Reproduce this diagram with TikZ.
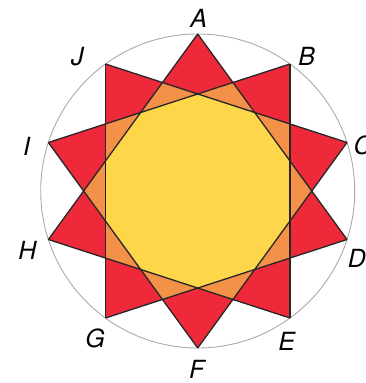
\documentclass[tikz,border=0pt]{standalone}
\usepackage{fontspec}
\setmainfont{TeX Gyre Heros}
\usepackage{xcolor}
\usepackage{tikz}
\definecolor{starred}{HTML}{EE2A3A}
\definecolor{starorange}{HTML}{F49148}
\definecolor{staryellow}{HTML}{FDD64A}
\definecolor{ringgray}{HTML}{AAAAAA}

\begin{document}
\begin{tikzpicture}[
  x=1pt, y=1pt,
  ring/.style={draw=ringgray, line width=0.9pt},
  chord/.style={draw=black!85, line width=1.3pt, line join=round},
  lbl/.style={font=\fontsize{25}{30}\selectfont\itshape, inner sep=0pt}
]
\useasboundingbox (-197.7,-192) rectangle (167.3,191);

\node[circle, ring, minimum size=314pt, inner sep=0pt] (ring) at (0,0) {};

% tips of the star
\foreach \n [count=\i from 0] in {A,B,C,D,E,F,G,H,I,J}
  \coordinate (\n) at (90-36*\i:157);

% layers: outer star, middle star, inner decagon
\fill[starred] (90:157) \foreach \k in {0,...,9}{ -- (90-36*\k:157) -- (72-36*\k:114.07)} -- cycle;
\fill[starorange] (90:97.03) \foreach \k in {0,...,9}{ -- (90-36*\k:97.03) -- (72-36*\k:114.07)} -- cycle;
\fill[staryellow] (90:97.03) \foreach \k in {1,...,9}{ -- (90-36*\k:97.03)} -- cycle;

\foreach \a/\b in {A/D,B/E,C/F,D/G,E/H,F/I,G/J,H/A,I/B,J/C}
  \draw[chord] (\a) -- (\b);

\node[lbl] (lblA) at (1,172.7) {A};
\node[lbl] (lblB) at (109,134.3) {B};
\node[lbl] (lblC) at (165,46) {C};
\node[lbl] (lblD) at (159.3,-67.3) {D};
\node[lbl] (lblE) at (89,-150.7) {E};
\node[lbl] (lblF) at (-1,-178) {F};
\node[lbl] (lblG) at (-102.7,-147.3) {G};
\node[lbl] (lblH) at (-170.4,-59) {H};
\node[lbl] (lblI) at (-171,44.3) {I};
\node[lbl] (lblJ) at (-120.4,134.3) {J};

\end{tikzpicture}
\end{document}
